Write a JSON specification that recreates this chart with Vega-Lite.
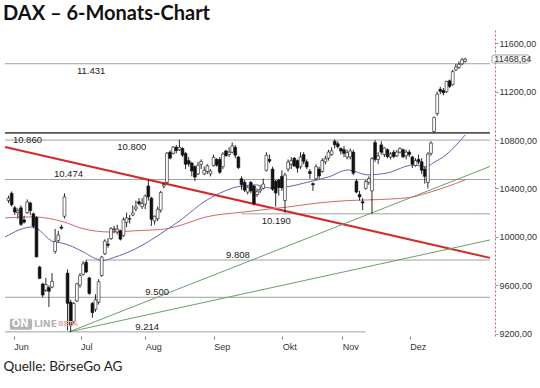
{
"$schema": "https://vega.github.io/schema/vega-lite/v6.json",
"width": 495, "height": 306,
"autosize": "none",
"padding": {"left": 0, "top": 30, "right": 45, "bottom": 52},
"background": "white",
"config": {"view": {"stroke": null}},
"title": {"text": "DAX – 6-Monats-Chart", "anchor": "start", "frame": "group", "font": "Lato", "fontSize": 20, "fontWeight": 700, "color": "#111", "baseline": "alphabetic", "offset": -10, "dx": 3},
"datasets": {
"candles": [
{"n":0,"o":10300,"h":10340,"l":10280,"c":10320},
{"n":1,"o":10360,"h":10375,"l":10250,"c":10265},
{"n":2,"o":10240,"h":10255,"l":10180,"c":10205},
{"n":3,"o":10200,"h":10235,"l":10150,"c":10215},
{"n":4,"o":10240,"h":10260,"l":10090,"c":10103},
{"n":5,"o":10140,"h":10175,"l":10110,"c":10121},
{"n":6,"o":10200,"h":10310,"l":10190,"c":10288},
{"n":7,"o":10280,"h":10290,"l":10180,"c":10217},
{"n":8,"o":10190,"h":10200,"l":10070,"c":10088},
{"n":9,"o":10160,"h":10170,"l":9830,"c":9834},
{"n":10,"o":9750,"h":9760,"l":9650,"c":9657},
{"n":11,"o":9610,"h":9620,"l":9500,"c":9519},
{"n":12,"o":9560,"h":9660,"l":9545,"c":9606},
{"n":13,"o":9580,"h":9600,"l":9420,"c":9550},
{"n":14,"o":9585,"h":9700,"l":9575,"c":9631},
{"n":15,"o":9880,"h":10065,"l":9860,"c":9962},
{"n":16,"o":9970,"h":10050,"l":9955,"c":10015},
{"n":17,"o":10080,"h":10100,"l":10060,"c":10071},
{"n":18,"o":10170,"h":10360,"l":10150,"c":10330},
{"n":19,"o":9700,"h":9730,"l":9226,"c":9450},
{"n":20,"o":9460,"h":9480,"l":9214,"c":9268},
{"n":21,"o":9300,"h":9460,"l":9280,"c":9448},
{"n":22,"o":9470,"h":9620,"l":9460,"c":9612},
{"n":23,"o":9600,"h":9700,"l":9580,"c":9680},
{"n":24,"o":9690,"h":9800,"l":9680,"c":9776},
{"n":25,"o":9790,"h":9810,"l":9700,"c":9709},
{"n":26,"o":9660,"h":9670,"l":9520,"c":9532},
{"n":27,"o":9450,"h":9460,"l":9330,"c":9373},
{"n":28,"o":9400,"h":9525,"l":9380,"c":9480},
{"n":29,"o":9460,"h":9650,"l":9440,"c":9629},
{"n":30,"o":9680,"h":9840,"l":9670,"c":9833},
{"n":31,"o":9860,"h":9980,"l":9850,"c":9964},
{"n":32,"o":9940,"h":9990,"l":9910,"c":9930},
{"n":33,"o":9985,"h":10080,"l":9975,"c":10068},
{"n":34,"o":10060,"h":10090,"l":10030,"c":10066},
{"n":35,"o":10040,"h":10100,"l":10020,"c":10063},
{"n":36,"o":10050,"h":10060,"l":9970,"c":9981},
{"n":37,"o":10010,"h":10160,"l":10000,"c":10142},
{"n":38,"o":10120,"h":10200,"l":10080,"c":10156},
{"n":39,"o":10150,"h":10180,"l":10110,"c":10147},
{"n":40,"o":10180,"h":10260,"l":10170,"c":10199},
{"n":41,"o":10230,"h":10300,"l":10210,"c":10247},
{"n":42,"o":10290,"h":10320,"l":10260,"c":10274},
{"n":43,"o":10250,"h":10320,"l":10230,"c":10275},
{"n":44,"o":10270,"h":10350,"l":10230,"c":10337},
{"n":45,"o":10420,"h":10474,"l":10300,"c":10330},
{"n":46,"o":10320,"h":10330,"l":10090,"c":10145},
{"n":47,"o":10130,"h":10175,"l":10100,"c":10170},
{"n":48,"o":10150,"h":10250,"l":10130,"c":10228},
{"n":49,"o":10220,"h":10380,"l":10200,"c":10367},
{"n":50,"o":10420,"h":10450,"l":10400,"c":10432},
{"n":51,"o":10450,"h":10700,"l":10440,"c":10692},
{"n":52,"o":10700,"h":10715,"l":10640,"c":10651},
{"n":53,"o":10690,"h":10750,"l":10680,"c":10742},
{"n":54,"o":10740,"h":10760,"l":10690,"c":10713},
{"n":55,"o":10720,"h":10802,"l":10710,"c":10740},
{"n":56,"o":10730,"h":10740,"l":10660,"c":10676},
{"n":57,"o":10690,"h":10700,"l":10560,"c":10600},
{"n":58,"o":10630,"h":10660,"l":10580,"c":10603},
{"n":59,"o":10610,"h":10620,"l":10500,"c":10544},
{"n":60,"o":10580,"h":10590,"l":10460,"c":10494},
{"n":61,"o":10520,"h":10620,"l":10510,"c":10592},
{"n":62,"o":10600,"h":10640,"l":10560,"c":10623},
{"n":63,"o":10520,"h":10580,"l":10510,"c":10550},
{"n":64,"o":10540,"h":10600,"l":10520,"c":10587},
{"n":65,"o":10520,"h":10560,"l":10500,"c":10544},
{"n":66,"o":10590,"h":10680,"l":10580,"c":10658},
{"n":67,"o":10640,"h":10650,"l":10580,"c":10593},
{"n":68,"o":10640,"h":10660,"l":10520,"c":10534},
{"n":69,"o":10580,"h":10700,"l":10560,"c":10684},
{"n":70,"o":10710,"h":10720,"l":10660,"c":10672},
{"n":71,"o":10680,"h":10740,"l":10660,"c":10700},
{"n":72,"o":10700,"h":10780,"l":10690,"c":10752},
{"n":73,"o":10740,"h":10760,"l":10650,"c":10675},
{"n":74,"o":10660,"h":10670,"l":10560,"c":10573},
{"n":75,"o":10480,"h":10500,"l":10390,"c":10432},
{"n":76,"o":10450,"h":10470,"l":10370,"c":10386},
{"n":77,"o":10370,"h":10420,"l":10350,"c":10410},
{"n":78,"o":10450,"h":10460,"l":10360,"c":10380},
{"n":79,"o":10420,"h":10430,"l":10260,"c":10276},
{"n":80,"o":10350,"h":10400,"l":10330,"c":10373},
{"n":81,"o":10380,"h":10420,"l":10360,"c":10393},
{"n":82,"o":10400,"h":10480,"l":10390,"c":10436},
{"n":83,"o":10550,"h":10700,"l":10540,"c":10674},
{"n":84,"o":10640,"h":10680,"l":10610,"c":10626},
{"n":85,"o":10560,"h":10580,"l":10380,"c":10394},
{"n":86,"o":10460,"h":10470,"l":10250,"c":10362},
{"n":87,"o":10470,"h":10480,"l":10340,"c":10410},
{"n":88,"o":10500,"h":10550,"l":10380,"c":10405},
{"n":89,"o":10300,"h":10530,"l":10199,"c":10511},
{"n":90,"o":10560,"h":10640,"l":10540,"c":10619},
{"n":91,"o":10600,"h":10660,"l":10560,"c":10630},
{"n":92,"o":10650,"h":10660,"l":10580,"c":10585},
{"n":93,"o":10630,"h":10640,"l":10530,"c":10568},
{"n":94,"o":10580,"h":10700,"l":10560,"c":10660},
{"n":95,"o":10680,"h":10700,"l":10600,"c":10624},
{"n":96,"o":10620,"h":10640,"l":10560,"c":10577},
{"n":97,"o":10540,"h":10560,"l":10480,"c":10523},
{"n":98,"o":10440,"h":10450,"l":10380,"c":10430},
{"n":99,"o":10480,"h":10600,"l":10470,"c":10580},
{"n":100,"o":10560,"h":10580,"l":10480,"c":10504},
{"n":101,"o":10540,"h":10650,"l":10530,"c":10631},
{"n":102,"o":10620,"h":10670,"l":10600,"c":10645},
{"n":103,"o":10650,"h":10720,"l":10630,"c":10701},
{"n":104,"o":10680,"h":10740,"l":10670,"c":10711},
{"n":105,"o":10790,"h":10805,"l":10730,"c":10761},
{"n":106,"o":10770,"h":10790,"l":10730,"c":10745},
{"n":107,"o":10730,"h":10740,"l":10680,"c":10709},
{"n":108,"o":10720,"h":10750,"l":10660,"c":10690},
{"n":109,"o":10660,"h":10720,"l":10640,"c":10696},
{"n":110,"o":10660,"h":10730,"l":10640,"c":10710},
{"n":111,"o":10700,"h":10720,"l":10510,"c":10526},
{"n":112,"o":10460,"h":10480,"l":10360,"c":10370},
{"n":113,"o":10350,"h":10380,"l":10300,"c":10330},
{"n":114,"o":10290,"h":10320,"l":10220,"c":10280},
{"n":115,"o":10400,"h":10470,"l":10390,"c":10456},
{"n":116,"o":10450,"h":10500,"l":10430,"c":10482},
{"n":117,"o":10380,"h":10660,"l":10190,"c":10646},
{"n":118,"o":10780,"h":10800,"l":10620,"c":10640},
{"n":119,"o":10640,"h":10700,"l":10600,"c":10668},
{"n":120,"o":10760,"h":10790,"l":10680,"c":10700},
{"n":121,"o":10680,"h":10740,"l":10660,"c":10735},
{"n":122,"o":10720,"h":10730,"l":10650,"c":10663},
{"n":123,"o":10660,"h":10700,"l":10640,"c":10685},
{"n":124,"o":10700,"h":10720,"l":10650,"c":10664},
{"n":125,"o":10670,"h":10720,"l":10660,"c":10700},
{"n":126,"o":10700,"h":10740,"l":10690,"c":10730},
{"n":127,"o":10720,"h":10730,"l":10650,"c":10662},
{"n":128,"o":10670,"h":10720,"l":10640,"c":10700},
{"n":129,"o":10700,"h":10720,"l":10660,"c":10680},
{"n":130,"o":10660,"h":10670,"l":10570,"c":10600},
{"n":131,"o":10590,"h":10650,"l":10580,"c":10630},
{"n":132,"o":10640,"h":10680,"l":10600,"c":10620},
{"n":133,"o":10620,"h":10650,"l":10520,"c":10550},
{"n":134,"o":10560,"h":10580,"l":10440,"c":10500},
{"n":135,"o":10450,"h":10700,"l":10400,"c":10684},
{"n":136,"o":10690,"h":10790,"l":10670,"c":10775},
{"n":137,"o":10870,"h":10995,"l":10860,"c":10986},
{"n":138,"o":11020,"h":11200,"l":11000,"c":11180},
{"n":139,"o":11220,"h":11240,"l":11180,"c":11203},
{"n":140,"o":11210,"h":11230,"l":11170,"c":11190},
{"n":141,"o":11200,"h":11290,"l":11190,"c":11285},
{"n":142,"o":11290,"h":11300,"l":11230,"c":11244},
{"n":143,"o":11260,"h":11380,"l":11250,"c":11366},
{"n":144,"o":11380,"h":11430,"l":11370,"c":11404},
{"n":145,"o":11400,"h":11450,"l":11390,"c":11427},
{"n":146,"o":11430,"h":11480,"l":11420,"c":11464},
{"n":147,"o":11450,"h":11481,"l":11440,"c":11468.64}
],
"hlines": [
{"v":11431,"n0":-1.14,"n1":155},
{"v":10860,"n0":-1.14,"n1":155},
{"v":10800,"n0":-1.14,"n1":155},
{"v":10474,"n0":-1.14,"n1":155},
{"v":10190,"n0":75,"n1":155},
{"v":9808,"n0":25,"n1":155},
{"v":9500,"n0":-1.14,"n1":155},
{"v":9214,"n0":-1.14,"n1":115}
],
"trends": [
{"id":"Trend rot","n0":-1.14,"v0":10743,"n1":155,"v1":9826},
{"id":"Trend gruen 1","n0":19.5,"v0":9214,"n1":155,"v1":10582},
{"id":"Trend gruen 2","n0":19.5,"v0":9214,"n1":155,"v1":9974}
],
"ma": [
{"s":"GD kurz","n":-1.1,"v":9999},{"s":"GD kurz","n":7.7,"v":10082},{"s":"GD kurz","n":14.6,"v":9958},{"s":"GD kurz","n":17,"v":9950},{"s":"GD kurz","n":24.1,"v":9875},{"s":"GD kurz","n":28,"v":9820},{"s":"GD kurz","n":30.4,"v":9805},{"s":"GD kurz","n":34,"v":9830},{"s":"GD kurz","n":40.8,"v":9900},{"s":"GD kurz","n":45,"v":9960},{"s":"GD kurz","n":51,"v":10060},{"s":"GD kurz","n":56,"v":10150},{"s":"GD kurz","n":62.9,"v":10289},{"s":"GD kurz","n":68,"v":10360},{"s":"GD kurz","n":73.6,"v":10413},{"s":"GD kurz","n":79.9,"v":10429},{"s":"GD kurz","n":84,"v":10404},{"s":"GD kurz","n":89.4,"v":10413},{"s":"GD kurz","n":96.7,"v":10454},{"s":"GD kurz","n":103,"v":10495},{"s":"GD kurz","n":109.3,"v":10553},{"s":"GD kurz","n":115.6,"v":10512},{"s":"GD kurz","n":121.9,"v":10528},{"s":"GD kurz","n":130.4,"v":10594},{"s":"GD kurz","n":134.5,"v":10578},{"s":"GD kurz","n":136.7,"v":10611},{"s":"GD kurz","n":140.8,"v":10677},{"s":"GD kurz","n":147,"v":10842},
{"s":"GD lang","n":-1.1,"v":10156},{"s":"GD lang","n":7.7,"v":10165},{"s":"GD lang","n":17.8,"v":10123},{"s":"GD lang","n":24,"v":10067},{"s":"GD lang","n":32.6,"v":10040},{"s":"GD lang","n":40.8,"v":10050},{"s":"GD lang","n":50.3,"v":10065},{"s":"GD lang","n":56,"v":10100},{"s":"GD lang","n":62.9,"v":10160},{"s":"GD lang","n":76,"v":10206},{"s":"GD lang","n":84,"v":10230},{"s":"GD lang","n":89.4,"v":10245},{"s":"GD lang","n":99.8,"v":10280},{"s":"GD lang","n":109.3,"v":10300},{"s":"GD lang","n":115.6,"v":10305},{"s":"GD lang","n":129.2,"v":10325},{"s":"GD lang","n":134.5,"v":10360},{"s":"GD lang","n":147,"v":10470}
]
},
"layer": [
{
"data": {"name": "hlines"},
"mark": {"type": "rule"},
"encoding": {
"x": {"field": "n0", "type": "quantitative", "scale": {"domain": [-1.14, 155], "nice": false, "zero": false},
  "axis": {"values": [1.7, 23.2, 44.0, 66.1, 88.1, 107.4, 129.2], "labelExpr": "datum.value < 10 ? 'Jun' : datum.value < 30 ? 'Jul' : datum.value < 50 ? 'Aug' : datum.value < 70 ? 'Sep' : datum.value < 95 ? 'Okt' : datum.value < 115 ? 'Nov' : 'Dez'", "domain": false, "ticks": true, "tickSize": 3, "tickColor": "#777", "labelAlign": "left", "labelBaseline": "top", "labelPadding": 3, "labelFont": "Liberation Sans", "labelFontSize": 9, "labelColor": "#333", "grid": false,
  "title": "Quelle: BörseGo AG", "titleFont": "Lato", "titleFontSize": 13.5, "titleFontWeight": "normal", "titleColor": "#222", "titleAnchor": "start", "titleAlign": "left", "titleBaseline": "alphabetic", "titleX": 3, "titleY": 34}},
"x2": {"field": "n1"},
"y": {"field": "v", "type": "quantitative", "scale": {"domain": [9180, 11710], "nice": false, "zero": false},
  "axis": {"orient": "right", "values": [9200,9400,9600,9800,10000,10200,10400,10600,10800,11000,11200,11400,11600], "labelExpr": "replace(format(datum.value, '.2f'), '.', ',')", "domainColor": "#b07070", "domainDash": [2, 2], "tickSize": 3, "tickColor": "#999", "labelPadding": 1, "labelFont": "Liberation Sans", "labelFontSize": 9, "labelColor": "#333", "grid": false, "title": null}},
"color": {"condition": {"test": "datum.v == 10860", "value": "#555"}, "value": "#a0a0a0"},
"strokeWidth": {"condition": {"test": "datum.v == 10860", "value": 1.8}, "value": 1}
}
},
{
"data": {"name": "trends"},
"mark": {"type": "rule"},
"encoding": {
"x": {"field": "n0", "type": "quantitative"},
"x2": {"field": "n1"},
"y": {"field": "v0", "type": "quantitative"},
"y2": {"field": "v1"},
"color": {"condition": {"test": "datum.id == 'Trend rot'", "value": "#d42a2a"}, "value": "#6aa06a"},
"strokeWidth": {"condition": {"test": "datum.id == 'Trend rot'", "value": 2}, "value": 1}
}
},
{
"data": {"name": "ma"},
"transform": [{"filter": "datum.s == 'GD lang'"}],
"mark": {"type": "line", "interpolate": "monotone", "strokeWidth": 1, "color": "#d06a6a"},
"encoding": {
"x": {"field": "n", "type": "quantitative"},
"y": {"field": "v", "type": "quantitative"}
}
},
{
"data": {"name": "ma"},
"transform": [{"filter": "datum.s == 'GD kurz'"}],
"mark": {"type": "line", "interpolate": "monotone", "strokeWidth": 1, "color": "#6464b4"},
"encoding": {
"x": {"field": "n", "type": "quantitative"},
"y": {"field": "v", "type": "quantitative"}
}
},
{
"data": {"name": "candles"},
"mark": {"type": "rule", "color": "#111", "strokeWidth": 0.9},
"encoding": {
"x": {"field": "n", "type": "quantitative"},
"y": {"field": "l", "type": "quantitative"},
"y2": {"field": "h"}
}
},
{
"data": {"name": "candles"},
"mark": {"type": "bar", "size": 2.8, "stroke": "#111", "strokeWidth": 0.6},
"encoding": {
"x": {"field": "n", "type": "quantitative"},
"y": {"field": "o", "type": "quantitative"},
"y2": {"field": "c"},
"fill": {"condition": {"test": "datum.c >= datum.o", "value": "white"}, "value": "#111"}
}
},
{
"data": {"values": [{"t": "11.431", "n": 22, "v": 11431}, {"t": "10.860", "n": 1.4, "v": 10860}, {"t": "10.800", "n": 35, "v": 10800}, {"t": "10.190", "n": 81.5, "v": 10190}]},
"mark": {"type": "text", "align": "left", "baseline": "top", "dy": 2, "font": "Liberation Sans", "fontSize": 9.5, "color": "#222"},
"encoding": {
"x": {"field": "n", "type": "quantitative"},
"y": {"field": "v", "type": "quantitative"},
"text": {"field": "t"}
}
},
{
"data": {"values": [{"t": "10.474", "n": 14.6, "v": 10474}, {"t": "9.808", "n": 70, "v": 9808}, {"t": "9.500", "n": 44, "v": 9500}, {"t": "9.214", "n": 40.8, "v": 9214}]},
"mark": {"type": "text", "align": "left", "baseline": "alphabetic", "dy": -2, "font": "Liberation Sans", "fontSize": 9.5, "color": "#222"},
"encoding": {
"x": {"field": "n", "type": "quantitative"},
"y": {"field": "v", "type": "quantitative"},
"text": {"field": "t"}
}
},
{
"data": {"values": [{"n0": 0.4, "n1": 7.6, "v0": 9232, "v1": 9322}]},
"mark": {"type": "rect", "fill": "#b4b4b4", "cornerRadius": 2},
"encoding": {
"x": {"field": "n0", "type": "quantitative"},
"x2": {"field": "n1"},
"y": {"field": "v0", "type": "quantitative"},
"y2": {"field": "v1"}
}
},
{
"data": {"values": [{"n": 1.0, "v": 9277, "t": "ON"}]},
"mark": {"type": "text", "align": "left", "baseline": "middle", "font": "DejaVu Sans", "fontSize": 10, "fontWeight": "bold", "color": "white"},
"encoding": {
"x": {"field": "n", "type": "quantitative"},
"y": {"field": "v", "type": "quantitative"},
"text": {"field": "t"}
}
},
{
"data": {"values": [{"n": 8.2, "v": 9277, "t": "LINE"}]},
"mark": {"type": "text", "align": "left", "baseline": "middle", "font": "DejaVu Sans", "fontSize": 9, "fontWeight": "bold", "color": "#b4b4b4"},
"encoding": {
"x": {"field": "n", "type": "quantitative"},
"y": {"field": "v", "type": "quantitative"},
"text": {"field": "t"}
}
},
{
"data": {"values": [{"n": 16.0, "v": 9277, "t": "BETA"}]},
"mark": {"type": "text", "align": "left", "baseline": "middle", "font": "DejaVu Sans", "fontSize": 7, "fontWeight": "bold", "color": "#f2b0b0"},
"encoding": {
"x": {"field": "n", "type": "quantitative"},
"y": {"field": "v", "type": "quantitative"},
"text": {"field": "t"}
}
},
{
"data": {"values": [{"n0": 155.6, "n1": 167.6, "v0": 11436, "v1": 11504}]},
"mark": {"type": "rect", "fill": "#f6f6f6", "stroke": "#888", "strokeWidth": 0.7, "cornerRadius": 2},
"encoding": {
"x": {"field": "n0", "type": "quantitative"},
"x2": {"field": "n1"},
"y": {"field": "v0", "type": "quantitative"},
"y2": {"field": "v1"}
}
},
{
"data": {"values": [{"n": 156.4, "v": 11470, "t": "11468,64"}]},
"mark": {"type": "text", "align": "left", "baseline": "middle", "font": "Liberation Sans", "fontSize": 9, "color": "#333"},
"encoding": {
"x": {"field": "n", "type": "quantitative"},
"y": {"field": "v", "type": "quantitative"},
"text": {"field": "t"}
}
}
]
}
